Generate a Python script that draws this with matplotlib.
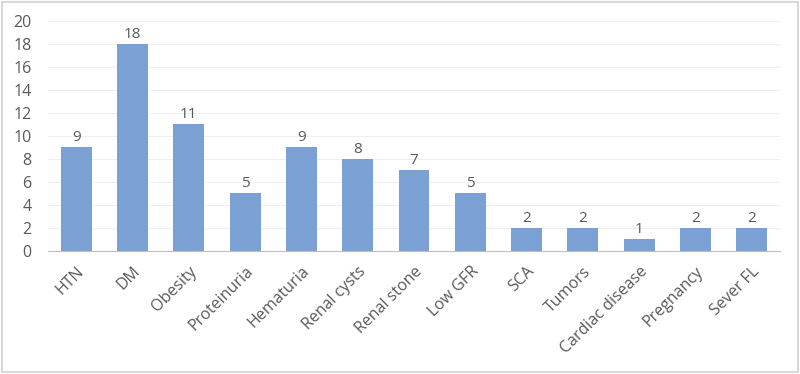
import matplotlib
matplotlib.use('Agg')
import matplotlib.pyplot as plt
from matplotlib.patches import Rectangle

# categories and counts
categories = ['HTN', 'DM', 'Obesity', 'Proteinuria', 'Hematuria', 'Renal cysts',
              'Renal stone', 'Low GFR', 'SCA', 'Tumors', 'Cardiac disease',
              'Pregnancy', 'Sever FL']
counts = [9, 18, 11, 5, 9, 8, 7, 5, 2, 2, 1, 2, 2]
y_ticks = [0, 2, 4, 6, 8, 10, 12, 14, 16, 18, 20]

plt.rcParams['font.family'] = ['Open Sans', 'DejaVu Sans']
TXT = '#595959'
BAR = '#7BA0D4'

fig = plt.figure(figsize=(8, 3.74), dpi=100)
fig.patches.append(Rectangle((0.003, 0.005), 0.994, 0.99, transform=fig.transFigure,
                             fill=False, edgecolor='#d9d9d9', linewidth=1.5))
ax = fig.add_axes([0.06, 0.329, 0.915, 0.615])

x = list(range(len(categories)))
bars = ax.bar(x, counts, width=0.55, color=BAR, zorder=2)
for xi, v in zip(x, counts):
    ax.text(xi, v + 0.2, str(v), ha='center', va='bottom', fontsize=11, color=TXT)

ax.set_xlim(-0.5, len(categories) - 0.5)
ax.set_ylim(0, 20)
ax.set_yticks(y_ticks)
ax.yaxis.grid(True, color='#eeeeee', linewidth=0.8, zorder=0)
ax.set_axisbelow(True)
ax.set_xticks(x)
ax.set_xticklabels(categories, rotation=45, ha='right', rotation_mode='anchor')
ax.tick_params(axis='both', length=0, labelsize=11.5, colors=TXT)
ax.tick_params(axis='x', pad=9)
ax.tick_params(axis='y', pad=12)
for s in ['top', 'right', 'left']:
    ax.spines[s].set_visible(False)
ax.spines['bottom'].set_color('#bfbfbf')

fig.savefig('out.png', dpi=100)
